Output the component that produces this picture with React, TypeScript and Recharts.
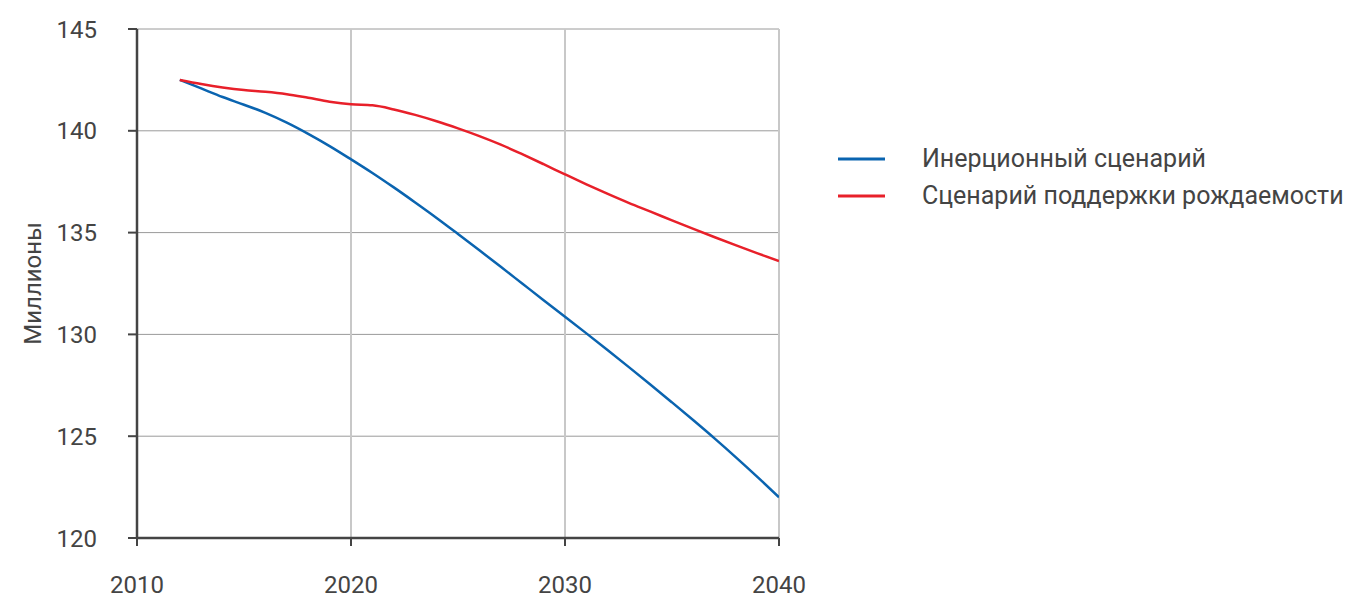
import React from 'react';
import {
  LineChart,
  Line,
  XAxis,
  YAxis,
  CartesianGrid
} from 'recharts';

const years = [
  2012, 2013, 2014, 2015, 2016, 2017, 2018, 2019, 2020, 2021,
  2022, 2023, 2024, 2025, 2026, 2027, 2028, 2029, 2030, 2031,
  2032, 2033, 2034, 2035, 2036, 2037, 2038, 2039, 2040
];

// Инерционный сценарий
const inertial = [
  142.5, 142.08, 141.66, 141.28, 140.88, 140.4, 139.85, 139.25, 138.6, 137.93,
  137.22, 136.48, 135.72, 134.93, 134.13, 133.32, 132.5, 131.68, 130.87, 130.05,
  129.22, 128.38, 127.53, 126.66, 125.78, 124.88, 123.95, 122.99, 122.0
];

// Сценарий поддержки рождаемости
const support = [
  142.5, 142.3, 142.13, 142.0, 141.92, 141.8, 141.62, 141.43, 141.3, 141.25,
  141.05, 140.78, 140.47, 140.12, 139.74, 139.32, 138.85, 138.36, 137.86, 137.37,
  136.9, 136.45, 136.03, 135.6, 135.18, 134.77, 134.37, 133.98, 133.6
];

const xTicks = [2010, 2020, 2030, 2040];
const yTicks = [120, 125, 130, 135, 140, 145];

const seriesNames = ['Инерционный сценарий', 'Сценарий поддержки рождаемости'];
const seriesColors = ['#0a64b0', '#e8202a'];

const data = years.map((year, i) => ({
  year,
  inertial: inertial[i],
  support: support[i]
}));

const FONT = 'Roboto, sans-serif';
const TEXT = '#444';

const LegendBox = () => (
  <div
    style={{
      position: 'absolute',
      left: 830,
      top: 132,
      fontFamily: FONT,
      fontSize: 25,
      color: TEXT,
      whiteSpace: 'nowrap'
    }}
  >
    {seriesNames.map((name, i) => (
      <div key={name} style={{ display: 'flex', alignItems: 'center', height: 37 }}>
        <svg width={47} height={4} style={{ marginRight: 37 }}>
          <line x1={0} y1={2} x2={47} y2={2} stroke={seriesColors[i]} strokeWidth={3} />
        </svg>
        <span>{name}</span>
      </div>
    ))}
  </div>
);

const YLabel = (props: any) => {
  const vb = props.viewBox || {};
  const cx = 25;
  const cy = (vb.y || 0) + (vb.height || 0) / 2;
  return (
    <text
      x={cx}
      y={cy}
      transform={`rotate(-90, ${cx}, ${cy})`}
      textAnchor="middle"
      dominantBaseline="central"
      fill={TEXT}
      fontSize={24}
      fontFamily={FONT}
    >
      Миллионы
    </text>
  );
};

export default function App() {
  return (
    <div style={{ position: 'relative', width: 1348, height: 590 }}>
      <LineChart
        width={820}
        height={590}
        data={data}
        margin={{ top: 21, right: 49, left: 0, bottom: 0 }}
      >
        <CartesianGrid horizontal={true} vertical={false} stroke="#9a9a9a" strokeWidth={1} />
        <CartesianGrid horizontal={false} vertical={true} stroke="#c8c8c8" strokeWidth={2} />
        <XAxis
          dataKey="year"
          type="number"
          domain={[2010, 2040]}
          ticks={xTicks}
          allowDataOverflow
          height={60}
          axisLine={{ stroke: TEXT, strokeWidth: 2.5 }}
          tickLine={{ stroke: TEXT, strokeWidth: 2 }}
          tickSize={8}
          tickMargin={30}
          tick={{ fill: TEXT, fontSize: 24, fontFamily: FONT }}
          interval={0}
        />
        <YAxis
          type="number"
          domain={[120, 145]}
          ticks={yTicks}
          width={129}
          axisLine={{ stroke: TEXT, strokeWidth: 2.5 }}
          tickLine={{ stroke: TEXT, strokeWidth: 2 }}
          tickSize={9}
          tickMargin={31}
          tick={{ fill: TEXT, fontSize: 24, fontFamily: FONT }}
          interval={0}
          label={<YLabel />}
        />
        <Line
          type="monotone"
          dataKey="inertial"
          name={seriesNames[0]}
          stroke={seriesColors[0]}
          strokeWidth={2.5}
          dot={false}
          isAnimationActive={false}
        />
        <Line
          type="monotone"
          dataKey="support"
          name={seriesNames[1]}
          stroke={seriesColors[1]}
          strokeWidth={2.5}
          dot={false}
          isAnimationActive={false}
        />
      </LineChart>
      <LegendBox />
    </div>
  );
}
